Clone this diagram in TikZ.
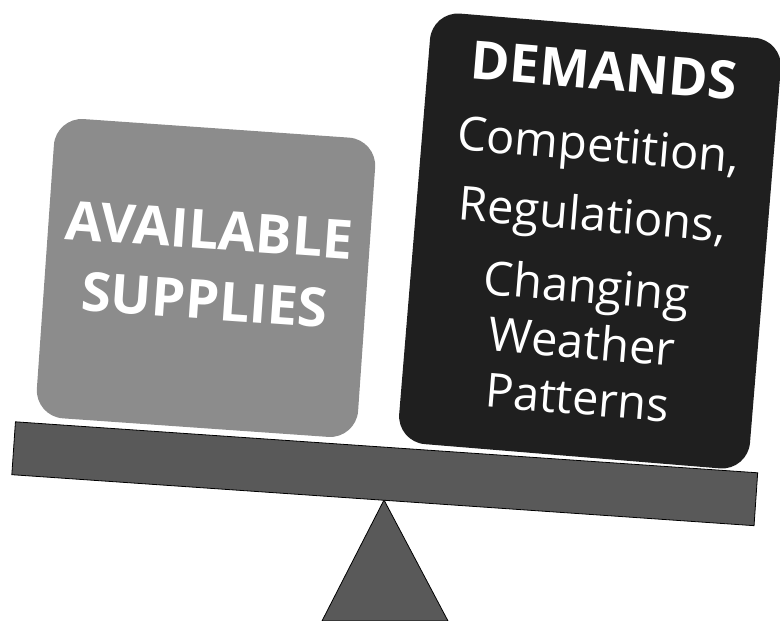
\documentclass[tikz,border=0pt]{standalone}
\usepackage{fontspec}
\setmainfont{Open Sans}
\definecolor{supplygray}{HTML}{8C8C8C}
\definecolor{demandblack}{HTML}{1F1F1F}
\definecolor{beamgray}{HTML}{595959}
\tikzset{
  weight/.style={rounded corners=28pt, inner sep=0pt},
  caption/.style={text=white, align=center, inner sep=0pt},
  plank/.style={draw=black, fill=beamgray, line width=0.8pt}
}
\begin{document}
\begin{tikzpicture}[x=1pt,y=1pt]
  \useasboundingbox (0,0) rectangle (780,621);
  % fulcrum under the beam
  \coordinate (apex) at (384,121);
  \draw[plank] (apex) -- (322,0) -- (448,0) -- cycle;
  % tilted beam
  \node[plank, rotate=-3.93, minimum width=744pt, minimum height=53pt,
        inner sep=0pt] (beam) at (384.75,147.25) {};
  % the two loads
  \node[weight, fill=supplygray, rotate=-4, minimum width=322pt,
        minimum height=300pt] (supply) at (206,343) {};
  \node[weight, fill=demandblack, rotate=-4.7, minimum width=352pt,
        minimum height=432pt] (demand) at (590,380) {};
  % their texts
  \node[caption, rotate=-4, font=\fontsize{54}{70}\selectfont\bfseries]
    (supplytext) at ([shift={(1,13)}]supply.center) {AVAILABLE\\SUPPLIES};
  \node[caption, rotate=-4.7, font=\fontsize{47}{56}\selectfont]
    (demandtext) at ([shift={(1,8)}]demand.center)
    {{\bfseries\fontsize{53}{56}\selectfont DEMANDS}\\[16pt]
     Competition,\\[14pt]
     Regulations,\\[16pt]
     Changing\\
     Weather\\
     Patterns};
\end{tikzpicture}
\end{document}
